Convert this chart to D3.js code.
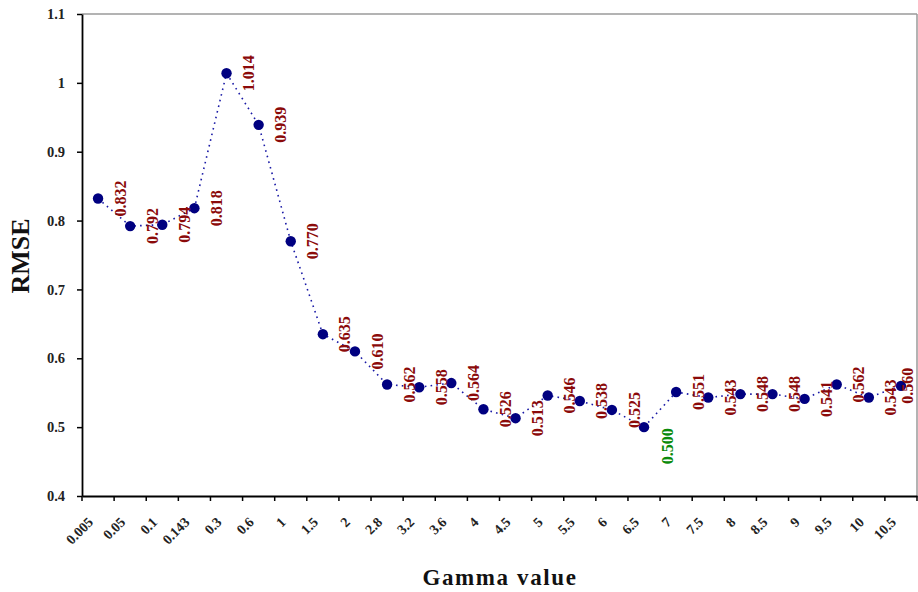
<!DOCTYPE html>
<html>
<head>
<meta charset="utf-8">
<script src="https://cdn.jsdelivr.net/npm/d3@7"></script>
<style>
  html, body { margin: 0; padding: 0; background: #fff; }
  svg { display: block; font-family: "Liberation Serif", "Times New Roman", serif; }
</style>
</head>
<body>
<svg id="chart" width="918" height="592"></svg>
<script>
// Gamma values tested (category axis)
const gammaLabels = ["0.005", "0.05", "0.1", "0.143", "0.3", "0.6", "1", "1.5", "2", "2.8",
  "3.2", "3.6", "4", "4.5", "5", "5.5", "6", "6.5", "7", "7.5", "8", "8.5", "9", "9.5", "10", "10.5"];

// RMSE obtained for each gamma value
const rmseValues = [0.832, 0.792, 0.794, 0.818, 1.014, 0.939, 0.770, 0.635, 0.610, 0.562,
  0.558, 0.564, 0.526, 0.513, 0.546, 0.538, 0.525, 0.500, 0.551, 0.543, 0.548, 0.548,
  0.541, 0.562, 0.543, 0.560];

// Y axis ticks
const yTicks = [0.4, 0.5, 0.6, 0.7, 0.8, 0.9, 1.0, 1.1];

const W = 918;
const svg = d3.select("#chart");
const plot = { left: 82, right: 917, top: 14, bottom: 496 };

const x = d3.scaleBand()
  .domain(gammaLabels)
  .range([plot.left, plot.right])
  .paddingInner(0)
  .paddingOuter(0);
const bw = x.bandwidth();
const cx = d => x(d) + bw / 2;

const y = d3.scaleLinear()
  .domain([0.4, 1.1])
  .range([plot.bottom, plot.top]);

const data = gammaLabels.map((g, i) => ({ g, v: rmseValues[i] }));
const minV = d3.min(rmseValues);

// Plot frame: grey top and right edges
svg.append("line")
  .attr("x1", plot.left).attr("x2", plot.right)
  .attr("y1", plot.top).attr("y2", plot.top)
  .attr("stroke", "#9a9a9a").attr("stroke-width", 1.5);
svg.append("line")
  .attr("x1", plot.right).attr("x2", plot.right)
  .attr("y1", plot.top).attr("y2", plot.bottom)
  .attr("stroke", "#9a9a9a").attr("stroke-width", 1.5);

// Y axis
const yAxis = svg.append("g")
  .attr("transform", `translate(${plot.left},0)`)
  .call(d3.axisLeft(y)
    .tickValues(yTicks)
    .tickSize(5)
    .tickSizeOuter(0)
    .tickPadding(12)
    .tickFormat(d => String(+d.toFixed(1))));
yAxis.select(".domain").attr("stroke", "#000").attr("stroke-width", 1.8);
yAxis.selectAll(".tick line").attr("stroke", "#000").attr("stroke-width", 1.5);
yAxis.selectAll(".tick text")
  .attr("font-family", "Liberation Serif, serif")
  .attr("font-weight", "bold")
  .attr("font-size", 14.5)
  .attr("fill", "#222");

// X axis: ticks between categories, labels rotated at category centres
const xAxis = svg.append("g")
  .attr("transform", `translate(0,${plot.bottom})`)
  .call(d3.axisBottom(x).tickSize(0).tickSizeOuter(0).tickPadding(0));
xAxis.select(".domain").attr("stroke", "#000").attr("stroke-width", 1.8);
xAxis.selectAll(".tick text")
  .attr("font-family", "Liberation Serif, serif")
  .attr("font-weight", "bold")
  .attr("font-size", 14)
  .attr("fill", "#222")
  .attr("text-anchor", "end")
  .attr("y", 0)
  .attr("dy", 0)
  .attr("transform", "translate(-4,27) rotate(-45)");

const bounds = gammaLabels.map(g => x(g)).concat([plot.right]);
xAxis.selectAll("line.bound")
  .data(bounds)
  .join("line")
  .attr("class", "bound")
  .attr("x1", d => d).attr("x2", d => d)
  .attr("y1", 0).attr("y2", 5)
  .attr("stroke", "#000").attr("stroke-width", 1.5);

// Dotted series line
const line = d3.line().x(d => cx(d.g)).y(d => y(d.v));
svg.append("path")
  .datum(data)
  .attr("d", line)
  .attr("fill", "none")
  .attr("stroke", "#1a1aa6")
  .attr("stroke-width", 1.6)
  .attr("stroke-dasharray", "1.6,4.2");

// Markers
svg.selectAll("circle.pt")
  .data(data)
  .join("circle")
  .attr("class", "pt")
  .attr("cx", d => cx(d.g))
  .attr("cy", d => y(d.v))
  .attr("r", 5.2)
  .attr("fill", "#000080");

// Value labels, vertical; the lowest RMSE is highlighted in green below its point.
// Labels are kept inside the drawing area at the right edge.
svg.selectAll("text.val")
  .data(data)
  .join("text")
  .attr("class", "val")
  .attr("transform", d => {
    const best = d.v === minV;
    const tx = Math.min(cx(d.g) + (best ? 23 : 22), W - 11);
    const ty = y(d.v) + (best ? 19 : 0);
    return `translate(${tx},${ty}) rotate(-90)`;
  })
  .attr("text-anchor", "middle")
  .attr("dy", "0.35em")
  .attr("font-family", "Liberation Serif, serif")
  .attr("font-weight", "bold")
  .attr("font-size", 16)
  .attr("fill", d => d.v === minV ? "#0a8a0a" : "#8b0a0a")
  .text(d => d.v.toFixed(3));

// Axis titles
svg.append("text")
  .attr("transform", `translate(29,256) rotate(-90)`)
  .attr("text-anchor", "middle")
  .attr("font-family", "Liberation Serif, serif")
  .attr("font-weight", "bold")
  .attr("font-size", 26)
  .attr("fill", "#111")
  .text("RMSE");

svg.append("text")
  .attr("x", 500)
  .attr("y", 585)
  .attr("text-anchor", "middle")
  .attr("font-family", "Liberation Serif, serif")
  .attr("font-weight", "bold")
  .attr("font-size", 23)
  .attr("letter-spacing", 1.6)
  .attr("fill", "#111")
  .text("Gamma value");
</script>
</body>
</html>
